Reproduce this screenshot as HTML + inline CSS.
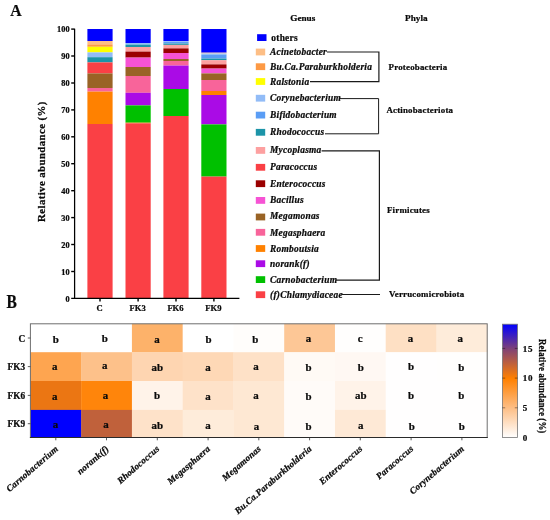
<!DOCTYPE html>
<html lang="en"><head><meta charset="utf-8"><title>Figure</title>
<style>
html,body{margin:0;padding:0;background:#fff;}
body{width:550px;height:520px;overflow:hidden;}
svg{display:block;}
text{font-family:"Liberation Serif",serif;font-weight:bold;fill:#0a0a0a;stroke:#0a0a0a;stroke-width:0.24px;}
.it{font-style:italic;}
</style></head><body>
<svg width="550" height="520" viewBox="0 0 550 520">
<rect x="0" y="0" width="550" height="520" fill="#ffffff"/>
<text transform="translate(10.2 16.2) scale(0.9 1)" font-size="17.5">A</text>
<text transform="translate(6.4 308.2) scale(0.8 1)" font-size="19.4">B</text>
<g id="bars">
<rect x="87.4" y="29.0" width="25.2" height="12.0" fill="#0000fe"/>
<rect x="87.4" y="41.0" width="25.2" height="3.4" fill="#fdbe85"/>
<rect x="87.4" y="44.4" width="25.2" height="2.4" fill="#fd9a45"/>
<rect x="87.4" y="46.8" width="25.2" height="5.6" fill="#ffff00"/>
<rect x="87.4" y="52.4" width="25.2" height="4.8" fill="#92bcf7"/>
<rect x="87.4" y="57.2" width="25.2" height="5.2" fill="#1c94a8"/>
<rect x="87.4" y="62.4" width="25.2" height="11.0" fill="#fa4045"/>
<rect x="87.4" y="73.4" width="25.2" height="14.6" fill="#996325"/>
<rect x="87.4" y="88.0" width="25.2" height="3.6" fill="#f8649a"/>
<rect x="87.4" y="91.6" width="25.2" height="32.4" fill="#ff8100"/>
<rect x="87.4" y="124.0" width="25.2" height="174.4" fill="#fa4045"/>
<rect x="125.5" y="29.0" width="25.2" height="14.0" fill="#0000fe"/>
<rect x="125.5" y="43.0" width="25.2" height="1.6" fill="#92bcf7"/>
<rect x="125.5" y="44.6" width="25.2" height="2.4" fill="#1c94a8"/>
<rect x="125.5" y="47.0" width="25.2" height="4.6" fill="#fda0a0"/>
<rect x="125.5" y="51.6" width="25.2" height="6.0" fill="#9a0000"/>
<rect x="125.5" y="57.6" width="25.2" height="9.4" fill="#f653d4"/>
<rect x="125.5" y="67.0" width="25.2" height="9.0" fill="#996325"/>
<rect x="125.5" y="76.0" width="25.2" height="16.8" fill="#f8649a"/>
<rect x="125.5" y="92.8" width="25.2" height="12.6" fill="#aa0be6"/>
<rect x="125.5" y="105.4" width="25.2" height="17.3" fill="#00c000"/>
<rect x="125.5" y="122.7" width="25.2" height="0.6" fill="#ff8100"/>
<rect x="125.5" y="123.3" width="25.2" height="175.1" fill="#fa4045"/>
<rect x="163.4" y="29.0" width="25.2" height="12.1" fill="#0000fe"/>
<rect x="163.4" y="41.1" width="25.2" height="0.7" fill="#92bcf7"/>
<rect x="163.4" y="41.8" width="25.2" height="1.8" fill="#5a9df5"/>
<rect x="163.4" y="43.6" width="25.2" height="1.3" fill="#1c94a8"/>
<rect x="163.4" y="44.9" width="25.2" height="3.5" fill="#fda0a0"/>
<rect x="163.4" y="48.4" width="25.2" height="4.6" fill="#9a0000"/>
<rect x="163.4" y="53.0" width="25.2" height="6.0" fill="#f653d4"/>
<rect x="163.4" y="59.0" width="25.2" height="2.0" fill="#996325"/>
<rect x="163.4" y="61.0" width="25.2" height="4.6" fill="#f8649a"/>
<rect x="163.4" y="65.6" width="25.2" height="23.4" fill="#aa0be6"/>
<rect x="163.4" y="89.0" width="25.2" height="27.0" fill="#00c000"/>
<rect x="163.4" y="116.0" width="25.2" height="182.4" fill="#fa4045"/>
<rect x="201.3" y="29.0" width="25.2" height="23.7" fill="#0000fe"/>
<rect x="201.3" y="52.7" width="25.2" height="0.8" fill="#fdbe85"/>
<rect x="201.3" y="53.5" width="25.2" height="1.1" fill="#92bcf7"/>
<rect x="201.3" y="54.6" width="25.2" height="4.0" fill="#5a9df5"/>
<rect x="201.3" y="58.6" width="25.2" height="1.6" fill="#1c94a8"/>
<rect x="201.3" y="60.2" width="25.2" height="4.2" fill="#fda0a0"/>
<rect x="201.3" y="64.4" width="25.2" height="4.2" fill="#9a0000"/>
<rect x="201.3" y="68.6" width="25.2" height="4.8" fill="#f653d4"/>
<rect x="201.3" y="73.4" width="25.2" height="6.6" fill="#996325"/>
<rect x="201.3" y="80.0" width="25.2" height="11.0" fill="#f8649a"/>
<rect x="201.3" y="91.0" width="25.2" height="4.0" fill="#ff8100"/>
<rect x="201.3" y="95.0" width="25.2" height="29.4" fill="#aa0be6"/>
<rect x="201.3" y="124.4" width="25.2" height="52.2" fill="#00c000"/>
<rect x="201.3" y="176.6" width="25.2" height="121.8" fill="#fa4045"/>
</g>
<g stroke="#000" stroke-width="1.4" fill="none">
<line x1="74.6" y1="28.7" x2="74.6" y2="299.09999999999997" stroke-width="1.25"/>
<line x1="71.2" y1="298.4" x2="239.4" y2="298.4"/>
<line x1="71.2" y1="271.5" x2="74.6" y2="271.5"/>
<line x1="71.2" y1="244.5" x2="74.6" y2="244.5"/>
<line x1="71.2" y1="217.6" x2="74.6" y2="217.6"/>
<line x1="71.2" y1="190.7" x2="74.6" y2="190.7"/>
<line x1="71.2" y1="163.7" x2="74.6" y2="163.7"/>
<line x1="71.2" y1="136.8" x2="74.6" y2="136.8"/>
<line x1="71.2" y1="109.9" x2="74.6" y2="109.9"/>
<line x1="71.2" y1="83.0" x2="74.6" y2="83.0"/>
<line x1="71.2" y1="56.0" x2="74.6" y2="56.0"/>
<line x1="71.2" y1="29.1" x2="74.6" y2="29.1"/>
<line x1="100.0" y1="298.4" x2="100.0" y2="301.59999999999997"/>
<line x1="138.1" y1="298.4" x2="138.1" y2="301.59999999999997"/>
<line x1="176.0" y1="298.4" x2="176.0" y2="301.59999999999997"/>
<line x1="213.9" y1="298.4" x2="213.9" y2="301.59999999999997"/>
</g>
<g font-size="8.3" letter-spacing="0.1" text-anchor="end">
<text x="69.8" y="301.5">0</text>
<text x="69.8" y="274.6">10</text>
<text x="69.8" y="247.6">20</text>
<text x="69.8" y="220.7">30</text>
<text x="69.8" y="193.8">40</text>
<text x="69.8" y="166.8">50</text>
<text x="69.8" y="139.9">60</text>
<text x="69.8" y="113.0">70</text>
<text x="69.8" y="86.1">80</text>
<text x="69.8" y="59.1">90</text>
<text x="69.8" y="32.2">100</text>
</g>
<g font-size="8.6" text-anchor="middle">
<text x="99.5" y="311.2">C</text>
<text x="137.6" y="311.2">FK3</text>
<text x="175.5" y="311.2">FK6</text>
<text x="213.4" y="311.2">FK9</text>
</g>
<text font-size="10.8" letter-spacing="0.42" text-anchor="middle" transform="translate(44.9 161.6) scale(1.05 1) rotate(-90)">Relative abundance (%)</text>
<g font-size="9.2" text-anchor="middle">
<text x="302.8" y="21">Genus</text>
<text x="416.3" y="21">Phyla</text>
</g>
<g id="legend" font-size="9.4" letter-spacing="0.26">
<rect x="257.1" y="34.2" width="9.4" height="6.8" fill="#0000fe"/>
<text x="271.3" y="40.8">others</text>
<rect x="255.8" y="48.6" width="9.4" height="6.8" fill="#fdbe85"/>
<text x="270.0" y="54.6" class="it">Acinetobacter</text>
<rect x="255.8" y="63.3" width="9.4" height="6.8" fill="#fd9a45"/>
<text x="270.0" y="69.9" class="it">Bu.Ca.Paraburkholderia</text>
<rect x="255.8" y="78.1" width="9.4" height="6.8" fill="#ffff00"/>
<text x="270.0" y="84.5" class="it">Ralstonia</text>
<rect x="255.8" y="94.8" width="9.4" height="6.8" fill="#92bcf7"/>
<text x="270.0" y="100.8" class="it">Corynebacterium</text>
<rect x="255.8" y="111.7" width="9.4" height="6.8" fill="#5a9df5"/>
<text x="270.0" y="117.7" class="it">Bifidobacterium</text>
<rect x="255.8" y="128.9" width="9.4" height="6.8" fill="#1c94a8"/>
<text x="270.0" y="134.9" class="it">Rhodococcus</text>
<rect x="255.8" y="147.0" width="9.4" height="6.8" fill="#fda0a0"/>
<text x="270.0" y="153.0" class="it">Mycoplasma</text>
<rect x="255.8" y="163.9" width="9.4" height="6.8" fill="#fa4045"/>
<text x="270.0" y="169.9" class="it">Paracoccus</text>
<rect x="255.8" y="180.3" width="9.4" height="6.8" fill="#9a0000"/>
<text x="270.0" y="186.9" class="it">Enterococcus</text>
<rect x="255.8" y="197.0" width="9.4" height="6.8" fill="#f653d4"/>
<text x="270.0" y="203.0" class="it">Bacillus</text>
<rect x="255.8" y="213.6" width="9.4" height="6.8" fill="#996325"/>
<text x="270.0" y="219.4" class="it">Megamonas</text>
<rect x="255.8" y="228.9" width="9.4" height="6.8" fill="#f8649a"/>
<text x="270.0" y="235.6" class="it">Megasphaera</text>
<rect x="255.8" y="245.1" width="9.4" height="6.8" fill="#ff8100"/>
<text x="270.0" y="251.5" class="it">Romboutsia</text>
<rect x="255.8" y="260.3" width="9.4" height="6.8" fill="#aa0be6"/>
<text x="270.0" y="266.8" class="it">norank(f)</text>
<rect x="255.8" y="276.2" width="9.4" height="6.8" fill="#00c000"/>
<text x="270.0" y="282.7" class="it">Carnobacterium</text>
<rect x="255.8" y="291.3" width="9.4" height="6.8" fill="#fa4045"/>
<text x="270.0" y="297.7" class="it">(f)Chlamydiaceae</text>
</g>
<g stroke="#1a1a1a" stroke-width="1" fill="none">
<path d="M327 52 H378.9 V81.6 H310" stroke-width="1.2"/>
<path d="M340 98.6 H378.6 V133.8 H325"/>
<path d="M321.6 150.8 H379.4 V280.2 H336" stroke-width="1.2"/>
<path d="M342 294.5 H380"/>
</g>
<g font-size="8.9" letter-spacing="0.2">
<text x="388.6" y="70">Proteobacteria</text>
<text x="386.4" y="113">Actinobacteriota</text>
<text x="387" y="212.5">Firmicutes</text>
<text x="389" y="297.1">Verrucomicrobiota</text>
</g>
<g id="heat">
<rect x="30.40" y="323.80" width="51.06" height="28.70" fill="#ffffff"/>
<rect x="81.16" y="323.80" width="51.06" height="28.70" fill="#ffffff"/>
<rect x="131.92" y="323.80" width="51.06" height="28.70" fill="#fdb26a"/>
<rect x="182.68" y="323.80" width="51.06" height="28.70" fill="#ffffff"/>
<rect x="233.44" y="323.80" width="51.06" height="28.70" fill="#fffdfb"/>
<rect x="284.20" y="323.80" width="51.06" height="28.70" fill="#fdc796"/>
<rect x="334.96" y="323.80" width="51.06" height="28.70" fill="#fffefd"/>
<rect x="385.72" y="323.80" width="51.06" height="28.70" fill="#fee0c4"/>
<rect x="436.48" y="323.80" width="51.06" height="28.70" fill="#feecda"/>
<rect x="30.40" y="352.20" width="51.06" height="29.10" fill="#fea550"/>
<rect x="81.16" y="352.20" width="51.06" height="29.10" fill="#fdc18a"/>
<rect x="131.92" y="352.20" width="51.06" height="29.10" fill="#fed5b1"/>
<rect x="182.68" y="352.20" width="51.06" height="29.10" fill="#fed8b6"/>
<rect x="233.44" y="352.20" width="51.06" height="29.10" fill="#fee1c7"/>
<rect x="284.20" y="352.20" width="51.06" height="29.10" fill="#fffaf5"/>
<rect x="334.96" y="352.20" width="51.06" height="29.10" fill="#fff8f3"/>
<rect x="385.72" y="352.20" width="51.06" height="29.10" fill="#fffefe"/>
<rect x="436.48" y="352.20" width="51.06" height="29.10" fill="#fffefd"/>
<rect x="30.40" y="381.00" width="51.06" height="29.20" fill="#eb7613"/>
<rect x="81.16" y="381.00" width="51.06" height="29.20" fill="#ff850b"/>
<rect x="131.92" y="381.00" width="51.06" height="29.20" fill="#fff3e9"/>
<rect x="182.68" y="381.00" width="51.06" height="29.20" fill="#fee2c9"/>
<rect x="233.44" y="381.00" width="51.06" height="29.20" fill="#fee8d3"/>
<rect x="284.20" y="381.00" width="51.06" height="29.20" fill="#fffbf8"/>
<rect x="334.96" y="381.00" width="51.06" height="29.20" fill="#fff3e9"/>
<rect x="385.72" y="381.00" width="51.06" height="29.20" fill="#fffefe"/>
<rect x="436.48" y="381.00" width="51.06" height="29.20" fill="#fffefe"/>
<rect x="30.40" y="409.90" width="51.06" height="27.90" fill="#0000ff"/>
<rect x="81.16" y="409.90" width="51.06" height="27.90" fill="#c0613b"/>
<rect x="131.92" y="409.90" width="51.06" height="27.90" fill="#fee2c9"/>
<rect x="182.68" y="409.90" width="51.06" height="27.90" fill="#feecda"/>
<rect x="233.44" y="409.90" width="51.06" height="27.90" fill="#fee8d3"/>
<rect x="284.20" y="409.90" width="51.06" height="27.90" fill="#fffbf8"/>
<rect x="334.96" y="409.90" width="51.06" height="27.90" fill="#fee9d6"/>
<rect x="385.72" y="409.90" width="51.06" height="27.90" fill="#fffefe"/>
<rect x="436.48" y="409.90" width="51.06" height="27.90" fill="#fffefe"/>
</g>
<rect x="30.4" y="323.8" width="456.8" height="113.7" fill="none" stroke="#6e6e6e" stroke-width="1"/>
<path d="M29.9 437.5 H487.7" fill="none" stroke="#2a2a2a" stroke-width="1.1"/>
<g font-size="10.9" text-anchor="middle">
<text x="55.7" y="342.5">b</text>
<text x="104.8" y="341.9">b</text>
<text x="157.0" y="342.7">a</text>
<text x="208.6" y="342.5">b</text>
<text x="255.3" y="342.5">b</text>
<text x="308.6" y="341.5">a</text>
<text x="360.2" y="341.5">c</text>
<text x="410.6" y="341.9">a</text>
<text x="460.3" y="342.3">a</text>
<text x="54.8" y="370.0">a</text>
<text x="104.8" y="369.2">a</text>
<text x="157.2" y="370.5">ab</text>
<text x="208.1" y="370.5">a</text>
<text x="255.9" y="370.3">a</text>
<text x="308.6" y="371.3">b</text>
<text x="360.7" y="370.9">b</text>
<text x="411.1" y="370.3">b</text>
<text x="461.4" y="371.3">b</text>
<text x="54.8" y="399.8">a</text>
<text x="105.4" y="399.2">a</text>
<text x="157.0" y="399.0">b</text>
<text x="208.1" y="399.8">a</text>
<text x="255.9" y="399.0">a</text>
<text x="308.6" y="400.0">b</text>
<text x="360.7" y="399.4">ab</text>
<text x="411.1" y="399.4">b</text>
<text x="461.4" y="399.4">b</text>
<text x="55.4" y="428.0">a</text>
<text x="105.9" y="427.6">a</text>
<text x="157.2" y="429.4">ab</text>
<text x="208.1" y="429.4">a</text>
<text x="256.4" y="429.8">a</text>
<text x="308.6" y="429.8">b</text>
<text x="360.7" y="429.0">a</text>
<text x="411.7" y="429.8">b</text>
<text x="461.9" y="429.8">b</text>
</g>
<g stroke="#333" stroke-width="0.8">
<line x1="27.799999999999997" y1="338.0" x2="30.4" y2="338.0"/>
<line x1="27.799999999999997" y1="366.6" x2="30.4" y2="366.6"/>
<line x1="27.799999999999997" y1="395.4" x2="30.4" y2="395.4"/>
<line x1="27.799999999999997" y1="423.7" x2="30.4" y2="423.7"/>
<line x1="55.8" y1="437.5" x2="55.8" y2="440.3"/>
<line x1="106.5" y1="437.5" x2="106.5" y2="440.3"/>
<line x1="157.3" y1="437.5" x2="157.3" y2="440.3"/>
<line x1="208.1" y1="437.5" x2="208.1" y2="440.3"/>
<line x1="258.8" y1="437.5" x2="258.8" y2="440.3"/>
<line x1="309.6" y1="437.5" x2="309.6" y2="440.3"/>
<line x1="360.3" y1="437.5" x2="360.3" y2="440.3"/>
<line x1="411.1" y1="437.5" x2="411.1" y2="440.3"/>
<line x1="461.9" y1="437.5" x2="461.9" y2="440.3"/>
</g>
<g font-size="9.3" letter-spacing="0.15" text-anchor="end">
<text x="25.4" y="341.6">C</text>
<text x="25.4" y="370.2">FK3</text>
<text x="25.4" y="399.1">FK6</text>
<text x="25.4" y="427.3">FK9</text>
</g>
<g font-size="9.2" letter-spacing="0.2" text-anchor="end" class="it">
<text transform="translate(58.7 449.6) rotate(-41)">Carnobacterium</text>
<text transform="translate(109.4 449.6) rotate(-41)">norank(f)</text>
<text transform="translate(160.2 449.6) rotate(-41)">Rhodococcus</text>
<text transform="translate(211.0 449.6) rotate(-41)">Megasphaera</text>
<text transform="translate(261.7 449.6) rotate(-41)">Megamonas</text>
<text transform="translate(312.5 449.6) rotate(-41)">Bu.Ca.Paraburkholderia</text>
<text transform="translate(363.2 449.6) rotate(-41)">Enterococcus</text>
<text transform="translate(414.0 449.6) rotate(-41)">Paracoccus</text>
<text transform="translate(464.8 449.6) rotate(-41)">Corynebacterium</text>
</g>
<defs><linearGradient id="cb" x1="0" y1="1" x2="0" y2="0">
<stop offset="0.0000" stop-color="#ffffff"/>
<stop offset="0.2604" stop-color="#fdbe85"/>
<stop offset="0.5208" stop-color="#ff8000"/>
<stop offset="0.7812" stop-color="#804276"/>
<stop offset="1.0000" stop-color="#0000ff"/>
</linearGradient></defs>
<rect x="502.4" y="324.2" width="15.2" height="113.3" fill="url(#cb)" stroke="#777" stroke-width="0.8"/>
<g stroke="#000" stroke-opacity="0.45" stroke-width="0.9">
<line x1="502.4" y1="407.8" x2="505.2" y2="407.8"/>
<line x1="514.8000000000001" y1="407.8" x2="517.6" y2="407.8"/>
<line x1="502.4" y1="378.1" x2="505.2" y2="378.1"/>
<line x1="514.8000000000001" y1="378.1" x2="517.6" y2="378.1"/>
<line x1="502.4" y1="348.4" x2="505.2" y2="348.4"/>
<line x1="514.8000000000001" y1="348.4" x2="517.6" y2="348.4"/>
</g>
<g font-size="9" letter-spacing="0.8">
<text x="522.7" y="440.6">0</text>
<text x="522.7" y="410.9">5</text>
<text x="522.7" y="381.2">10</text>
<text x="522.7" y="351.5">15</text>
</g>
<text font-size="8.8" letter-spacing="0.17" text-anchor="middle" transform="translate(539.3 386.2) scale(1.14 1) rotate(90)">Relative abundance (%)</text>
</svg>
</body></html>
